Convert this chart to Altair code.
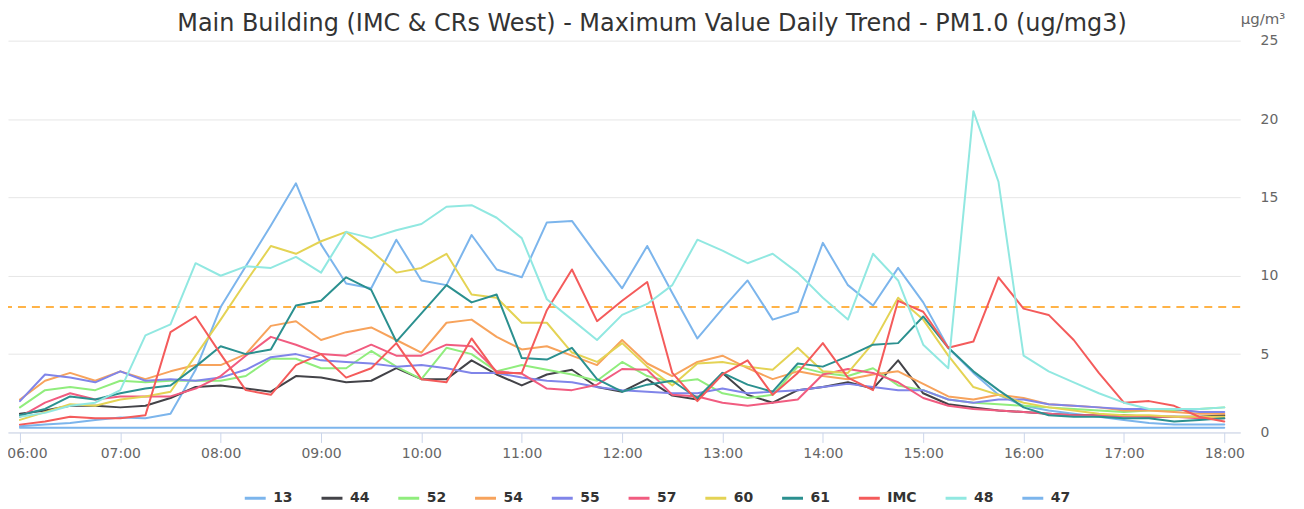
import altair as alt
import pandas as pd

times = ["06:00", "06:15", "06:30", "06:45", "07:00", "07:15", "07:30", "07:45",
         "08:00", "08:15", "08:30", "08:45", "09:00", "09:15", "09:30", "09:45",
         "10:00", "10:15", "10:30", "10:45", "11:00", "11:15", "11:30", "11:45",
         "12:00", "12:15", "12:30", "12:45", "13:00", "13:15", "13:30", "13:45",
         "14:00", "14:15", "14:30", "14:45", "15:00", "15:15", "15:30", "15:45",
         "16:00", "16:15", "16:30", "16:45", "17:00", "17:15", "17:30", "17:45",
         "18:00"]

s13 = [0.4, 0.5, 0.6, 0.8, 0.95, 0.9, 1.2, 4.0, 8.0, 10.6,
       13.2, 15.9, 12.0, 9.5, 9.2, 12.3, 9.7, 9.4, 12.6, 10.4,
       9.9, 13.4, 13.5, 11.3, 9.2, 11.9, 8.9, 6.0, 7.9, 9.7,
       7.2, 7.7, 12.1, 9.4, 8.1, 10.5, 8.3, 5.4, 3.8, 2.4,
       1.7, 1.4, 1.2, 1.0, 0.8, 0.6, 0.5, 0.5, 0.5]
s44 = [1.2, 1.4, 1.7, 1.7, 1.6, 1.7, 2.2, 2.9, 3.0, 2.8,
       2.6, 3.6, 3.5, 3.2, 3.3, 4.1, 3.4, 3.4, 4.6, 3.7,
       3.0, 3.7, 4.0, 2.9, 2.6, 3.4, 2.35, 2.1, 3.8, 2.4,
       1.9, 2.7, 2.9, 3.2, 2.8, 4.6, 2.5, 1.8, 1.6, 1.4,
       1.3, 1.2, 1.1, 1.1, 1.1, 1.0, 1.0, 1.0, 1.1]
s52 = [1.6, 2.7, 2.9, 2.7, 3.3, 3.2, 3.3, 3.3, 3.3, 3.6,
       4.7, 4.7, 4.1, 4.1, 5.2, 4.2, 3.4, 5.4, 5.0, 3.9,
       4.3, 4.0, 3.7, 3.3, 4.5, 3.6, 3.2, 3.4, 2.5, 2.2,
       2.4, 4.2, 3.8, 3.6, 4.1, 3.0, 2.7, 2.1, 1.9, 1.8,
       1.7, 1.6, 1.5, 1.4, 1.3, 1.4, 1.4, 1.5, 1.6]
s54 = [2.1, 3.3, 3.8, 3.3, 3.9, 3.4, 3.9, 4.3, 4.3, 5.0,
       6.8, 7.1, 5.9, 6.4, 6.7, 5.9, 5.1, 7.0, 7.2, 6.1,
       5.3, 5.5, 4.9, 4.3, 5.9, 4.4, 3.6, 4.5, 4.9, 4.1,
       3.4, 3.9, 3.6, 3.4, 3.7, 3.9, 3.1, 2.3, 2.1, 2.4,
       2.2, 1.8, 1.7, 1.6, 1.4, 1.4, 1.3, 1.2, 1.2]
s55 = [2.0, 3.7, 3.5, 3.2, 3.9, 3.3, 3.4, 3.3, 3.5, 4.0,
       4.8, 5.0, 4.6, 4.5, 4.4, 4.2, 4.3, 4.1, 3.8, 3.8,
       3.5, 3.3, 3.2, 2.9, 2.7, 2.6, 2.5, 2.5, 2.8, 2.5,
       2.6, 2.7, 2.9, 3.1, 2.9, 2.7, 2.7, 2.1, 1.9, 2.1,
       2.1, 1.8, 1.7, 1.6, 1.5, 1.5, 1.5, 1.3, 1.3]
s57 = [1.0, 1.9, 2.5, 2.1, 2.3, 2.3, 2.3, 2.8, 3.6, 4.9,
       6.1, 5.6, 5.0, 4.9, 5.6, 4.9, 4.9, 5.6, 5.5, 3.9,
       3.75, 2.8, 2.7, 3.05, 4.05, 4.0, 2.4, 2.3, 1.9, 1.7,
       1.9, 2.1, 3.7, 4.05, 3.8, 3.2, 2.2, 1.7, 1.5, 1.4,
       1.3, 1.2, 1.1, 1.1, 1.0, 1.0, 1.0, 0.9, 0.9]
s60 = [0.8, 1.3, 1.8, 1.7, 2.1, 2.3, 2.6, 4.9, 7.2, 9.6,
       11.9, 11.4, 12.2, 12.8, 11.6, 10.2, 10.5, 11.4, 8.8, 8.6,
       7.0, 7.0, 5.1, 4.5, 5.7, 4.2, 3.0, 4.4, 4.5, 4.2,
       4.0, 5.4, 3.9, 3.8, 5.7, 8.6, 7.2, 4.9, 2.9, 2.4,
       1.9, 1.6, 1.4, 1.2, 1.1, 1.1, 1.0, 1.0, 1.0]
s61 = [1.1, 1.5, 2.3, 2.1, 2.5, 2.8, 3.0, 4.2, 5.5, 5.0,
       5.3, 8.1, 8.4, 9.9, 9.1, 5.8, 7.6, 9.4, 8.3, 8.8,
       4.75, 4.65, 5.4, 3.4, 2.6, 3.05, 3.3, 2.2, 3.8, 3.05,
       2.6, 4.4, 4.2, 4.85, 5.6, 5.7, 7.4, 5.4, 3.9, 2.7,
       1.6, 1.1, 1.0, 1.0, 0.9, 0.9, 0.7, 0.8, 0.9]
sIMC = [0.5, 0.7, 1.0, 0.9, 0.9, 1.1, 6.4, 7.4, 5.0, 2.7,
        2.4, 4.3, 5.0, 3.5, 4.1, 5.7, 3.4, 3.2, 6.0, 3.8,
        3.8, 7.8, 10.4, 7.1, 8.4, 9.6, 3.8, 2.0, 3.7, 4.6,
        2.4, 3.8, 5.7, 3.5, 2.7, 8.4, 7.7, 5.4, 5.8, 9.9,
        7.9, 7.5, 5.9, 3.8, 1.9, 2.0, 1.7, 1.0, 0.7]
s48 = [1.0, 1.25, 1.7, 1.9, 2.7, 6.2, 6.9, 10.8, 10.0, 10.6,
       10.5, 11.2, 10.2, 12.8, 12.4, 12.9, 13.3, 14.4, 14.5, 13.7,
       12.4, 8.5, 7.2, 5.9, 7.5, 8.2, 9.4, 12.3, 11.6, 10.8,
       11.4, 10.2, 8.6, 7.2, 11.4, 9.7, 5.6, 4.1, 20.5, 16.0,
       4.9, 3.9, 3.2, 2.5, 1.9, 1.5, 1.5, 1.5, 1.6]
s47 = [0.3, 0.3, 0.3, 0.3, 0.3, 0.3, 0.3, 0.3, 0.3, 0.3,
       0.3, 0.3, 0.3, 0.3, 0.3, 0.3, 0.3, 0.3, 0.3, 0.3,
       0.3, 0.3, 0.3, 0.3, 0.3, 0.3, 0.3, 0.3, 0.3, 0.3,
       0.3, 0.3, 0.3, 0.3, 0.3, 0.3, 0.3, 0.3, 0.3, 0.3,
       0.3, 0.3, 0.3, 0.3, 0.3, 0.3, 0.3, 0.3, 0.3]

series_names = ["13", "44", "52", "54", "55", "57", "60", "61", "IMC", "48", "47"]
series_values = [s13, s44, s52, s54, s55, s57, s60, s61, sIMC, s48, s47]
colors = ["#7cb5ec", "#434348", "#90ed7d", "#f7a35c", "#8085e9", "#f15c80",
          "#e4d354", "#2b908f", "#f45b5b", "#91e8e1", "#7cb5ec"]
threshold = 8
hour_ticks = ["06:00", "07:00", "08:00", "09:00", "10:00", "11:00", "12:00",
              "13:00", "14:00", "15:00", "16:00", "17:00", "18:00"]


def to_minutes(t):
    h, m = t.split(":")
    return (int(h) - 6) * 60 + int(m)


rows = []
for k, (name, vals) in enumerate(zip(series_names, series_values)):
    for t, v in zip(times, vals):
        rows.append({"series": name, "order": k, "minutes": to_minutes(t),
                     "time": t, "value": v})
df = pd.DataFrame(rows)

FONT = "DejaVu Sans"

x_enc = alt.X(
    "minutes:Q",
    scale=alt.Scale(domain=[-7.15, 729.5], nice=False, zero=False),
    axis=alt.Axis(
        values=[to_minutes(t) for t in hour_ticks],
        labelExpr="(datum.value/60+6 < 10 ? '0' : '') + (datum.value/60+6) + ':00'",
        grid=False, tickSize=10, tickColor="#ccd6eb", domainColor="#ccd6eb",
        labelColor="#666666", labelFontSize=14, labelPadding=4,
        labelFlush=False, labelBound=False, title=None,
        labelOffset={"condition": {"test": "datum.value == 0", "value": 7}, "value": 0},
    ),
)

y_enc = alt.Y(
    "value:Q",
    scale=alt.Scale(domain=[0, 25], nice=False),
    axis=alt.Axis(
        orient="right", values=[0, 5, 10, 15, 20, 25], grid=True,
        gridColor="#e6e6e6", domain=False, ticks=False, labelPadding=20,
        labelColor="#666666", labelFontSize=14,
        title="μg/m³", titleAngle=0, titleX=0, titleY=-22,
        titleAlign="left", titleBaseline="middle", titleFontWeight="normal",
        titleColor="#666666", titleFontSize=15,
    ),
)

lines = alt.Chart(df).mark_line(
    strokeWidth=2, strokeJoin="round", strokeCap="round"
).encode(
    x=x_enc,
    y=y_enc,
    color=alt.Color(
        "series:N",
        scale=alt.Scale(domain=series_names, range=colors),
        sort=series_names,
        legend=alt.Legend(
            title=None, orient="none", direction="horizontal",
            legendX=236, legendY=447, symbolType="stroke",
            symbolStrokeWidth=3, symbolSize=441, labelOffset=6,
            columnPadding=22, labelFontSize=14, labelFontWeight="bold",
            labelColor="#333333", padding=0,
        ),
    ),
    detail="series:N",
)

rule = alt.Chart(pd.DataFrame({"v": [threshold]})).mark_rule(
    color="#ffb347", strokeWidth=2, strokeDash=[8, 6]
).encode(y=alt.datum(threshold))

chart = alt.layer(rule, lines).properties(
    width=1236,
    height=393,
    autosize=alt.AutoSizeParams(type="none"),
    padding={"left": 0, "top": 32, "right": 56, "bottom": 72},
    title=alt.TitleParams(
        text="Main Building (IMC & CRs West) - Maximum Value Daily Trend - PM1.0 (ug/mg3)",
        fontSize=24, fontWeight="normal", color="#333333", anchor="middle",
        dx=28, offset=-24, font=FONT,
    ),
).configure(font=FONT).configure_view(stroke=None)

chart.save("out.html", embed_options={"renderer": "svg", "actions": False})
